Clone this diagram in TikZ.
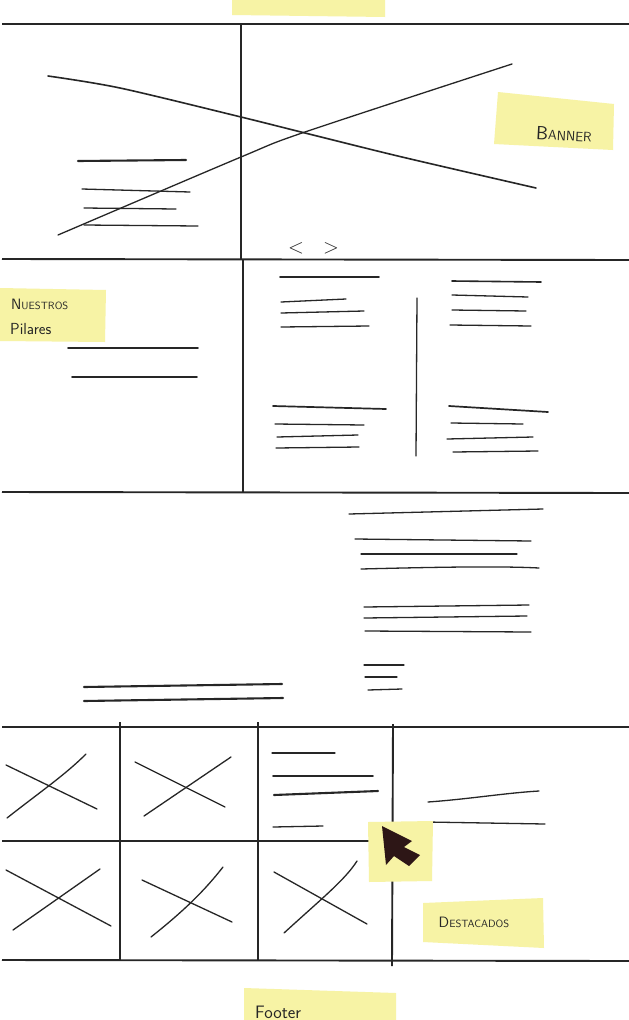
\documentclass[tikz,border=0pt]{standalone}
\definecolor{note}{RGB}{247,243,165}
\definecolor{ink}{RGB}{38,38,38}
\definecolor{marker}{RGB}{45,22,22}
\newcommand\mysc[4]{{\fontsize{#3}{#3}\selectfont #1}{\fontsize{#4}{#3}\selectfont #2}}
\tikzset{
  frame/.style={draw=ink,line width=1.9pt},
  sk/.style={draw=ink,line width=1.3pt,line cap=round},
  skb/.style={draw=ink,line width=2.1pt,line cap=round},
  sticky/.style={fill=note,draw=none},
  notelabel/.style={inner sep=0pt,text=ink,font=\sffamily}
}
\begin{document}
\begin{tikzpicture}[x=1pt,y=-1pt]
\useasboundingbox (0,0) rectangle (629,1020);
\fill[white] (0,0) rectangle (629,1020);
\clip (0,0) rectangle (629,1020);

% ---------- frame lines ----------
\draw[frame] (2,24) -- (629,24);
\draw[frame] (241,24) -- (241,259);
\draw[frame] (2,259) -- (629,260);
\draw[frame] (243,259) -- (243,492);
\draw[frame] (2,492) -- (629,493);
\draw[frame] (2,727) -- (629,727);
\draw[frame] (120,722) -- (120,960);
\draw[frame] (258,722) -- (258,960);
\draw[frame] (393,724) -- (392,966);
\draw[frame] (2,841) -- (372,841);
\draw[frame] (2,960) -- (629,961);

% ---------- banner area ----------
\draw[sk,line width=1.6pt] plot[smooth] coordinates {(48,76) (120,88) (241,117) (305,133) (402,157) (536,188)};
\draw[sk] plot[smooth] coordinates {(58,235) (241,157) (305,132) (512,64)};
\draw[skb] (78,161) -- (186,160);
\draw[sk] (82,189) -- (190,192);
\draw[sk] (84,208) -- (176,209);
\draw[sk] (84,225) -- (198,226);
\node[notelabel,font=\fontsize{22}{22}\selectfont] (prev) at (296,248) {$<$};
\node[notelabel,font=\fontsize{22}{22}\selectfont] (next) at (331,248) {$>$};

% ---------- pilares area ----------
\draw[sk,line width=1.6pt] (68,348) -- (198,348);
\draw[sk,line width=1.6pt] (72,377) -- (197,377);
\draw[sk,line width=1.6pt] (280,277) -- (379,277);
\draw[sk] (281,302) -- (346,299);
\draw[sk] (281,313) -- (364,311);
\draw[sk] (281,327) -- (369,326);
\draw[sk] (417,298) -- (416,456);
\draw[sk,line width=1.6pt] (452,281) -- (541,282);
\draw[sk] (452,295) -- (528,297);
\draw[sk] (452,310) -- (526,311);
\draw[sk] (450,325) -- (531,326);
\draw[sk,line width=1.7pt] (273,406) -- (386,409);
\draw[sk] (275,424) -- (364,425);
\draw[sk] (277,437) -- (358,435);
\draw[sk] (276,448) -- (359,447);
\draw[sk,line width=1.7pt] (449,406) -- (548,412);
\draw[sk] (451,423) -- (523,424);
\draw[sk] (447,439) -- (533,437);
\draw[sk] (453,452) -- (538,451);

% ---------- middle area ----------
\draw[sk] (349,514) -- (543,509);
\draw[sk] (355,539) -- (531,541);
\draw[sk] (361,554) -- (517,554);
\draw[sk] (361,569) .. controls (440,567) and (500,566) .. (539,568);
\draw[sk] (364,607) -- (529,605);
\draw[sk] (364,618) -- (527,616);
\draw[sk] (365,631) -- (531,632);
\draw[sk] (364,665) -- (404,665);
\draw[sk] (365,677) -- (397,677);
\draw[sk] (368,690) -- (402,689);
\draw[skb] (84,687) -- (282,684);
\draw[skb] (84,701) -- (283,698);

% ---------- grid area ----------
\draw[sk] (6,765) -- (97,809);
\draw[sk] (7,818) .. controls (40,792) and (65,775) .. (86,754);
\draw[sk] (135,762) -- (225,807);
\draw[sk] (144,816) -- (231,757);
\draw[sk] (272,753) -- (335,753);
\draw[sk,line width=1.6pt] (273,776) -- (373,776);
\draw[skb] (274,795) -- (378,791);
\draw[sk] (273,827) -- (323,826);
\draw[sk] (6,870) -- (111,926);
\draw[sk] (13,930) -- (100,869);
\draw[sk] (142,880) -- (232,922);
\draw[sk] (151,937) .. controls (185,910) and (205,890) .. (223,867);
\draw[sk] (274,872) -- (367,924);
\draw[sk] (284,933) .. controls (320,900) and (345,880) .. (357,861);
\draw[sk] (428,802) .. controls (470,799) and (505,793) .. (539,791);
\draw[sk] (427,822) -- (545,824);

% ---------- sticky notes ----------
\fill[sticky] (232,0) -- (385,0) -- (385,17) -- (232,15) -- cycle;
\fill[sticky] (498,92) -- (614,104) -- (613,150) -- (494,144) -- cycle;
\node[notelabel,rotate=-3] (banner) at (564,134) {\mysc{B}{ANNER}{19}{13.5}};
\fill[sticky] (0,288) -- (106,290) -- (105,342) -- (0,341) -- cycle;
\node[notelabel,anchor=west] (nuestros) at (11,304) {\mysc{N}{UESTROS}{15}{10.5}};
\node[notelabel,anchor=west,font=\sffamily\fontsize{16}{16}\selectfont] (pilares) at (10,329) {Pilares};
\fill[sticky] (368,822) -- (433,821) -- (432,881) -- (369,882) -- cycle;
\fill[marker] (382,826) -- (386,865) -- (394,856) -- (409,866) -- (420,855) -- (404,847) -- (412,841) -- cycle;
\fill[sticky] (423,903) -- (543,898) -- (544,948) -- (423,942) -- cycle;
\node[notelabel] (destacados) at (474,922) {\mysc{D}{ESTACADOS}{15}{10.5}};
\fill[sticky] (244,988) -- (396,993) -- (396,1020) -- (244,1020) -- cycle;
\node[notelabel,anchor=base west,font=\sffamily\fontsize{18}{18}\selectfont] (footer) at (255,1018) {Footer};
\end{tikzpicture}
\end{document}
